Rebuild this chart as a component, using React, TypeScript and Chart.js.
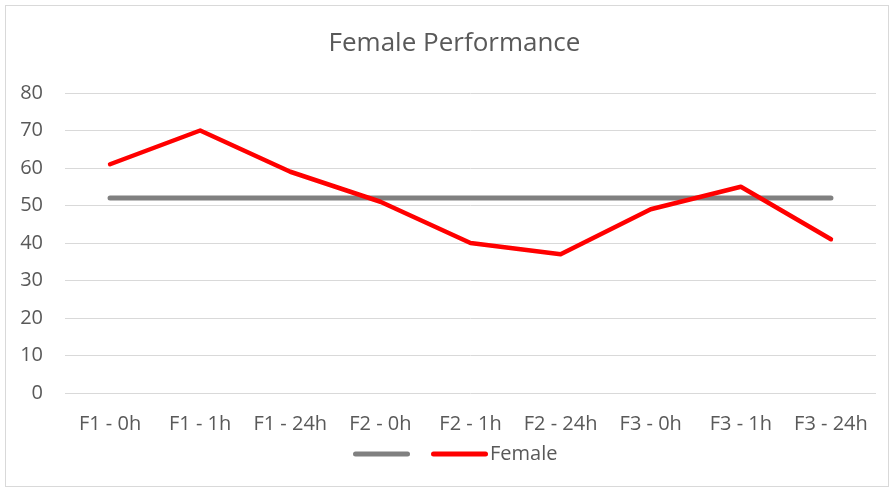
import React, { useEffect, useRef } from "react";
import { Chart, registerables } from "chart.js";

Chart.register(...registerables);

const categories = ["F1 - 0h", "F1 - 1h", "F1 - 24h", "F2 - 0h", "F2 - 1h", "F2 - 24h", "F3 - 0h", "F3 - 1h", "F3 - 24h"];
const femaleValues = [61, 70, 59, 51, 40, 37, 49, 55, 41];
const baselineValues = [52, 52, 52, 52, 52, 52, 52, 52, 52];
const yTicks = [0, 10, 20, 30, 40, 50, 60, 70, 80];
const titleText = "Female Performance";
const femaleLabel = "Female";
const baselineLabel = "";

const FONT = "'Open Sans', sans-serif";
const TEXT = "#595959";

const overlayPlugin = {
  id: "overlay",
  afterDraw(chart: any) {
    const ctx = chart.ctx;
    const area = chart.chartArea;
    const cx = (area.left + area.right) / 2;
    ctx.save();
    ctx.fillStyle = TEXT;
    ctx.font = `26px ${FONT}`;
    ctx.textAlign = "center";
    ctx.textBaseline = "middle";
    ctx.fillText(titleText, cx - 16, 44);

    // legend
    const items = [
      { label: baselineLabel, color: "#808080", width: 5 },
      { label: femaleLabel, color: "#ff0000", width: 5 },
    ];
    ctx.font = `20px ${FONT}`;
    const lineLen = 57;
    const gap = 21;
    const textGap = 2;
    let x = 353;
    const y = 454;
    ctx.lineCap = "round";
    items.forEach((it) => {
      ctx.strokeStyle = it.color;
      ctx.lineWidth = it.width;
      ctx.beginPath();
      ctx.moveTo(x + 2.5, y);
      ctx.lineTo(x + lineLen - 2.5, y);
      ctx.stroke();
      x += lineLen;
      if (it.label) {
        ctx.textAlign = "left";
        ctx.fillStyle = TEXT;
        ctx.fillText(it.label, x + textGap, y);
        x += textGap + ctx.measureText(it.label).width;
      }
      x += gap;
    });
    ctx.restore();
  },
};

export default function App() {
  const ref = useRef<HTMLCanvasElement>(null);
  useEffect(() => {
    if (!ref.current) return;
    const chart = new Chart(ref.current, {
      type: "line",
      data: {
        labels: categories,
        datasets: [
          {
            label: femaleLabel,
            data: femaleValues,
            borderColor: "#ff0000",
            backgroundColor: "#ff0000",
            borderWidth: 4.5,
            pointRadius: 0,
            borderCapStyle: "round",
            borderJoinStyle: "round",
            tension: 0,
            order: 0,
          },
          {
            label: baselineLabel,
            data: baselineValues,
            borderColor: "#808080",
            backgroundColor: "#808080",
            borderWidth: 5,
            pointRadius: 0,
            borderCapStyle: "round",
            tension: 0,
            order: 1,
          },
        ],
      },
      options: {
        animation: false,
        responsive: false,
        layout: { padding: { left: 0, right: 17, top: 93, bottom: 47 } },
        plugins: {
          legend: { display: false },
          title: { display: false },
          tooltip: { enabled: false },
        },
        scales: {
          x: {
            offset: true,
            grid: { display: false, drawTicks: false },
            border: { display: false },
            ticks: {
              color: TEXT,
              font: { family: FONT, size: 20 },
              padding: 19,
              maxRotation: 0,
              autoSkip: false,
            },
            afterFit(scale: any) {
              scale.height = 50;
            },
          },
          y: {
            min: 0,
            max: 80,
            afterBuildTicks(scale: any) {
              scale.ticks = yTicks.map((v) => ({ value: v }));
            },
            grid: { color: "#d9d9d9", lineWidth: 1, drawTicks: false },
            border: { display: false },
            ticks: {
              color: TEXT,
              font: { family: FONT, size: 20 },
              padding: 22,
            },
            afterFit(scale: any) {
              scale.width = 65;
            },
          },
        },
      },
      plugins: [overlayPlugin],
    });
    return () => chart.destroy();
  }, []);
  return (
    <div style={{ position: "fixed", left: 0, top: 0, width: 893, height: 490, background: "#fff" }}>
      <canvas ref={ref} width={893} height={490} style={{ position: "absolute", left: 0, top: 0 }} />
      <div
        style={{
          position: "absolute",
          left: 5,
          top: 5,
          width: 884,
          height: 482,
          border: "1px solid #d9d9d9",
          boxSizing: "border-box",
          pointerEvents: "none",
        }}
      />
    </div>
  );
}
